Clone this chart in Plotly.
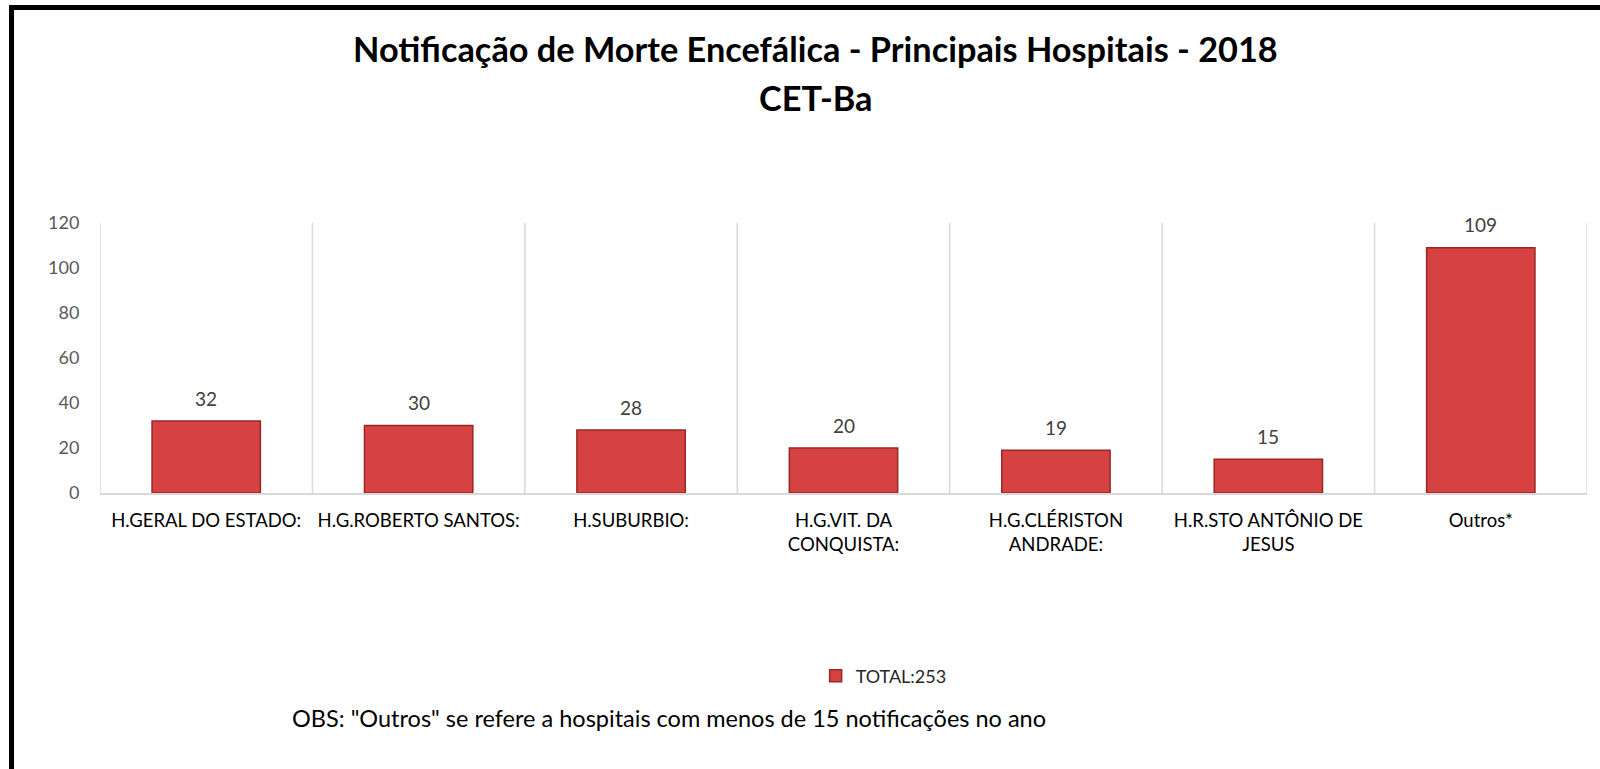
import plotly.graph_objects as go

categories = ["H.GERAL DO ESTADO:", "H.G.ROBERTO SANTOS:", "H.SUBURBIO:",
              "H.G.VIT. DA<br>CONQUISTA:", "H.G.CLÉRISTON<br>ANDRADE:",
              "H.R.STO ANTÔNIO DE<br>JESUS", "Outros*"]
values = [32, 30, 28, 20, 19, 15, 109]
series_name = "TOTAL:253"
y_ticks = [0, 20, 40, 60, 80, 100, 120]

FONT = "Lato, 'Open Sans', sans-serif"

fig = go.Figure()
fig.add_trace(go.Bar(
    x=categories, y=values, name=series_name,
    marker=dict(color="#D64141", line=dict(color="#9A2626", width=1.5)),
    width=0.51, showlegend=True,
))

# data labels
for c, v in zip(categories, values):
    fig.add_annotation(x=c, y=v, text=str(v), showarrow=False, yshift=23,
                       yanchor="middle", font=dict(family=FONT, size=19, color="#404040"))

# category separator lines
shapes = []
for i in range(len(categories) + 1):
    shapes.append(dict(type="line", xref="x", yref="paper", x0=i - 0.5, x1=i - 0.5,
                       y0=0, y1=1, line=dict(color="#D9D9D9", width=1.5), layer="below"))
# outer border (left and top)
shapes.append(dict(type="line", xref="paper", yref="paper", x0=-0.0595, x1=-0.0595,
                   y0=-1.03, y1=1.798, line=dict(color="black", width=5)))
shapes.append(dict(type="line", xref="paper", yref="paper", x0=-0.0612, x1=1.01,
                   y0=1.798, y1=1.798, line=dict(color="black", width=5)))

fig.update_layout(
    width=1600, height=769,
    margin=dict(l=100, r=13, t=223, b=276),
    paper_bgcolor="white", plot_bgcolor="white",
    shapes=shapes,
    bargap=0.49,
    showlegend=True,
    legend=dict(orientation="h", x=0.527, xanchor="center", y=-0.678, yanchor="middle",
                font=dict(family=FONT, size=18, color="#262626")),
    xaxis=dict(showgrid=False, showline=True, linecolor="#D9D9D9", linewidth=2,
               range=[-0.5, 6.5], ticks="outside", ticklen=10, tickcolor="rgba(0,0,0,0)",
               tickfont=dict(family=FONT, size=18.5, color="#000000")),
    yaxis=dict(range=[0, 120], tickvals=y_ticks, showgrid=False, showline=False,
               zeroline=False, ticks="outside", ticklen=16, tickcolor="rgba(0,0,0,0)",
               tickfont=dict(family=FONT, size=18, color="#595959")),
    annotations=list(fig.layout.annotations) + [
        dict(text="<b>Notificação de Morte Encefálica - Principais Hospitais - 2018</b>",
             xref="paper", yref="paper", x=0.481, y=1.645, showarrow=False,
             xanchor="center", yanchor="middle", font=dict(family=FONT, size=34.3, color="black")),
        dict(text="<b>CET-Ba</b>", xref="paper", yref="paper", x=0.481, y=1.465,
             showarrow=False, xanchor="center", yanchor="middle",
             font=dict(family=FONT, size=34.3, color="black")),
        dict(text='OBS: "Outros" se refere a hospitais com menos de 15 notificações no ano',
             xref="paper", yref="paper", x=0.1278, y=-0.834, showarrow=False,
             xanchor="left", yanchor="middle", font=dict(family=FONT, size=23.5, color="black")),
    ],
)

fig.write_html("out.html", config={"displayModeBar": False},
               post_script="document.body.style.margin='0';document.body.style.padding='0';")
